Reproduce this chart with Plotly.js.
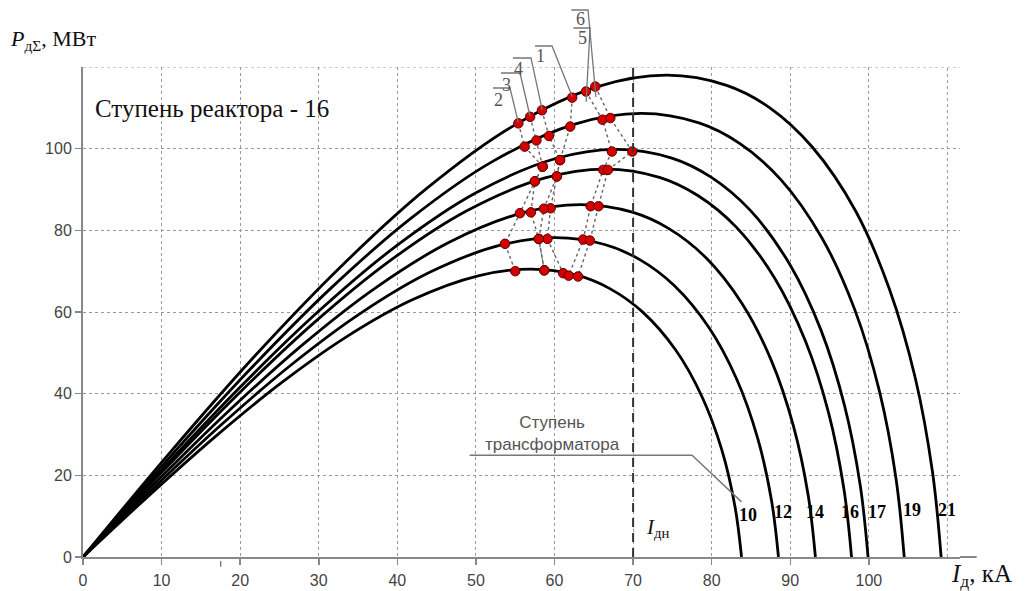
<!DOCTYPE html>
<html>
<head>
<meta charset="utf-8">
<script src="https://cdn.plot.ly/plotly-3.0.1.min.js"></script>
<style>html,body{margin:0;padding:0;background:#fff;}#chart{width:1026px;height:591px;}</style>
</head>
<body>
<div id="chart"></div>
<script>
// Transformer step curves: current I (kA) and power P (MW)
const stepLabels = ['10', '12', '14', '16', '17', '19', '21'];
const curve21X = [0, 10.9, 21.8, 32.8, 43.7, 54.6, 65.5, 74.3, 81.9, 87.4, 92.8, 98.3, 102.6, 105.9, 108.1, 109.2];
const curve21Y = [0, 25.2, 49.1, 71.1, 90.2, 105.4, 115.2, 118.0, 115.5, 110.0, 100.4, 84.8, 65.7, 43.9, 20.8, 0];
const curve19X = [0, 10.45, 20.9, 31.35, 41.8, 52.25, 62.7, 71.06, 78.38, 83.6, 88.83, 94.05, 98.23, 101.37, 103.46, 104.5];
const curve19Y = [0, 23.15, 45.23, 65.48, 83.05, 97.01, 106.06, 108.62, 106.3, 101.23, 92.36, 78.07, 60.46, 40.42, 19.17, 0];
const curve17X = [0, 9.99, 19.98, 29.97, 39.96, 49.95, 59.94, 67.93, 74.93, 79.92, 84.92, 89.91, 93.91, 96.9, 98.9, 99.9];
const curve17Y = [0, 21.28, 41.57, 60.17, 76.32, 89.15, 97.47, 99.82, 97.69, 93.03, 84.88, 71.75, 55.56, 37.15, 17.61, 0];
const curve16X = [0, 9.78, 19.56, 29.34, 39.12, 48.9, 58.68, 66.5, 73.35, 78.24, 83.13, 88.02, 91.93, 94.87, 96.82, 97.8];
const curve16Y = [0, 20.25, 39.56, 57.27, 72.64, 84.85, 92.77, 95.0, 92.98, 88.54, 80.79, 68.29, 52.88, 35.36, 16.76, 0];
const curve14X = [0, 9.32, 18.64, 27.96, 37.28, 46.6, 55.92, 63.38, 69.9, 74.56, 79.22, 83.88, 87.61, 90.4, 92.27, 93.2];
const curve14Y = [0, 18.4, 35.94, 52.02, 65.99, 77.08, 84.27, 86.3, 84.46, 80.43, 73.39, 62.03, 48.04, 32.12, 15.23, 0];
const curve12X = [0, 8.85, 17.7, 26.55, 35.4, 44.25, 53.1, 60.18, 66.38, 70.8, 75.23, 79.65, 83.19, 85.85, 87.62, 88.5];
const curve12Y = [0, 16.67, 32.56, 47.14, 59.79, 69.84, 76.36, 78.2, 76.53, 72.88, 66.49, 56.21, 43.53, 29.1, 13.8, 0];
const curve10X = [0, 8.38, 16.76, 25.14, 33.52, 41.9, 50.28, 56.98, 62.85, 67.04, 71.23, 75.42, 78.77, 81.29, 82.96, 83.8];
const curve10Y = [0, 15.03, 29.36, 42.51, 53.91, 62.98, 68.85, 70.51, 69.01, 65.72, 59.96, 50.69, 39.25, 26.24, 12.44, 0];

// Reactor step operating points (one per curve: 21,19,17,16,14,12,10)
const reactorLabels = ['1', '2', '3', '4', '5', '6'];
const path1X = [62.25, 62.0, 60.7, 60.3, 59.5, 59.1, 61.1];
const path1Y = [112.5, 105.4, 97.2, 93.2, 85.4, 77.9, 69.5];
const path2X = [55.4, 56.2, 58.5, 57.5, 55.6, 53.7, 55.0];
const path2Y = [106.2, 100.5, 95.6, 92.0, 84.2, 76.7, 70.0];
const path3X = [56.9, 57.7, 58.5, 57.5, 57.0, 58.0, 58.7];
const path3Y = [107.8, 102.0, 95.6, 92.0, 84.4, 77.9, 70.2];
const path4X = [58.4, 59.3, 60.7, 60.3, 58.65, 58.0, 58.7];
const path4Y = [109.4, 103.1, 97.2, 93.2, 85.3, 77.9, 70.2];
const path5X = [64.0, 66.1, 67.3, 66.2, 64.6, 63.65, 61.8];
const path5Y = [114.0, 107.1, 99.3, 94.8, 85.9, 77.75, 68.9];
const path6X = [65.2, 67.1, 69.9, 66.8, 65.6, 64.5, 63.0];
const path6Y = [115.2, 107.5, 99.3, 94.8, 85.9, 77.5, 68.7];

const xTicks = [0, 10, 20, 30, 40, 50, 60, 70, 80, 90, 100];
const yTicks = [0, 20, 40, 60, 80, 100];
const extraGridX = 110;
const extraGridY = 120;
const nominalCurrent = 70;

const curves = [
  [curve10X, curve10Y], [curve12X, curve12Y], [curve14X, curve14Y], [curve16X, curve16Y],
  [curve17X, curve17Y], [curve19X, curve19Y], [curve21X, curve21Y]
];
const paths = [[path1X, path1Y], [path2X, path2Y], [path3X, path3Y], [path4X, path4Y], [path5X, path5Y], [path6X, path6Y]];

const traces = [];
curves.forEach((c, i) => {
  traces.push({x: c[0], y: c[1], type: 'scatter', mode: 'lines', name: stepLabels[i],
    line: {color: '#000', width: 2.8, shape: 'spline', smoothing: 1.0}, showlegend: false});
});
paths.forEach((p, i) => {
  traces.push({x: p[0], y: p[1], type: 'scatter', mode: 'lines', name: reactorLabels[i],
    line: {color: '#666', width: 1.4, dash: 'dot'}, showlegend: false});
});
paths.forEach((p, i) => {
  traces.push({x: p[0], y: p[1], type: 'scatter', mode: 'markers', name: reactorLabels[i],
    marker: {color: '#d40000', size: 9.5, line: {color: '#5a0000', width: 1}}, showlegend: false, cliponaxis: false});
});

const serif = 'Liberation Serif, Times New Roman, serif';
const sans = 'Liberation Sans, Arial, sans-serif';

const annotations = [
  {xref: 'paper', yref: 'paper', x: -0.085, y: 1.055, xanchor: 'left', yanchor: 'middle', showarrow: false,
   text: '<i>P</i><sub>дΣ</sub>, МВт', font: {family: serif, size: 22, color: '#111'}},
  {xref: 'paper', yref: 'paper', x: 0.988, y: -0.037, xanchor: 'left', yanchor: 'middle', showarrow: false,
   text: '<i>I</i><sub>д</sub>, кА', font: {family: serif, size: 25, color: '#111'}},
  {xref: 'paper', yref: 'paper', x: 0.011, y: 0.916, xanchor: 'left', yanchor: 'middle', showarrow: false,
   text: 'Ступень реактора - 16', font: {family: serif, size: 25, color: '#111'}},
  {x: 59.8, y: 30.3, xanchor: 'center', yanchor: 'middle', showarrow: false,
   text: 'Ступень<br>трансформатора', font: {family: sans, size: 17, color: '#555'}},
  {x: 71.4, y: 7.1, xanchor: 'left', yanchor: 'middle', showarrow: false,
   text: '<i>I</i><sub>дн</sub>', font: {family: serif, size: 21, color: '#111'}}
];
const stepLabelPos = [[84.6, 10.3], [89.1, 11.0], [93.1, 11.0], [97.6, 11.0], [101.1, 11.0], [105.5, 11.5], [109.9, 11.5]];
stepLabels.forEach((t, i) => annotations.push({x: stepLabelPos[i][0], y: stepLabelPos[i][1], showarrow: false,
  xanchor: 'center', yanchor: 'middle', text: '<b>' + t + '</b>', font: {family: serif, size: 18, color: '#000'}}));
// reactor step labels (paper coords)
const reactorLabelPos = {'2': [0.4741, 0.933], '3': [0.4834, 0.964], '4': [0.4971, 0.995], '1': [0.5222, 1.022], '5': [0.5701, 1.059], '6': [0.5678, 1.097]};
Object.keys(reactorLabelPos).forEach(k => annotations.push({xref: 'paper', yref: 'paper', x: reactorLabelPos[k][0], y: reactorLabelPos[k][1],
  xanchor: 'center', yanchor: 'middle', showarrow: false, text: k, font: {family: serif, size: 18, color: '#555'}}));

const leader = (pts) => ({type: 'path', xref: 'paper', yref: 'paper',
  path: 'M' + pts.map(p => p[0] + ',' + p[1]).join(' L'), line: {color: '#777', width: 1.3}});
const gridStyle = {color: '#9a9a9a', width: 1, dash: 'dot'};

const shapes = [
  {type: 'line', xref: 'x', yref: 'y', x0: extraGridX, x1: extraGridX, y0: 0, y1: extraGridY, line: gridStyle, layer: 'below'},
  {type: 'line', xref: 'x', yref: 'y', x0: 0, x1: 111.6, y0: extraGridY, y1: extraGridY, line: gridStyle, layer: 'below'},
  {type: 'line', xref: 'x', yref: 'y', x0: nominalCurrent, x1: nominalCurrent, y0: 0, y1: 120,
   line: {color: '#333', width: 2, dash: '9px,6px'}},
  {type: 'line', xref: 'paper', yref: 'paper', x0: 1, x1: 1.019, y0: 0, y1: 0, line: {color: '#888', width: 2}},
  {type: 'line', xref: 'paper', yref: 'paper', x0: 0.157, x1: 0.157, y0: -0.008, y1: -0.02, line: {color: '#666', width: 1.2}},
  {type: 'path', xref: 'x', yref: 'y', path: 'M49.2,24.9 L77.5,24.9 L83.8,13.5', line: {color: '#777', width: 1.4}},
  leader([[0.4675, 0.9571], [0.4869, 0.9571], [0.4964, 0.8863]]),
  leader([[0.4766, 0.9878], [0.4983, 0.9878], [0.5097, 0.9]]),
  leader([[0.4903, 1.0184], [0.5108, 1.0184], [0.5237, 0.9122]]),
  leader([[0.5154, 1.0429], [0.5348, 1.0429], [0.5579, 0.9394]]),
  leader([[0.5592, 1.0796], [0.5782, 1.0796], [0.5737, 0.9292]]),
  leader([[0.5569, 1.1163], [0.5759, 1.1163], [0.5848, 0.9388]])
];

const axisCommon = {showgrid: true, gridcolor: '#9a9a9a', griddash: 'dot', gridwidth: 1, zeroline: false,
  showline: true, linecolor: '#888', linewidth: 2, ticks: 'outside', ticklen: 6, tickcolor: '#888', tickwidth: 1.5,
  tickfont: {family: sans, size: 16, color: '#444'}, fixedrange: true, tickmode: 'array'};

const layout = {
  width: 1026, height: 591,
  margin: {l: 83, r: 66, t: 67, b: 34},
  paper_bgcolor: '#fff', plot_bgcolor: '#fff',
  xaxis: Object.assign({}, axisCommon, {range: [0, 111.6], tickvals: xTicks, ticklabelstandoff: 2}),
  yaxis: Object.assign({}, axisCommon, {range: [0, 120], tickvals: yTicks}),
  annotations: annotations,
  shapes: shapes,
  showlegend: false
};

Plotly.newPlot('chart', traces, layout, {displayModeBar: false, staticPlot: true});
</script>
</body>
</html>
